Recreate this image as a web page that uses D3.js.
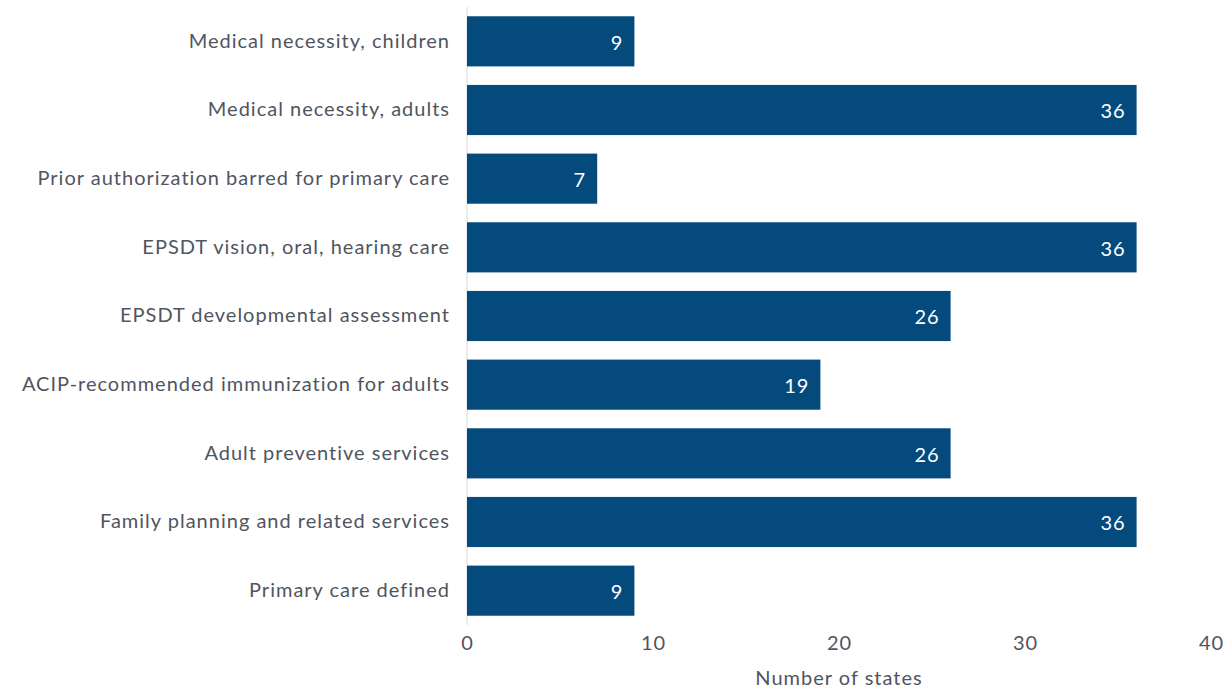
<!DOCTYPE html>
<html><head><meta charset="utf-8">
<script src="https://cdn.jsdelivr.net/npm/d3@7"></script>
<style>body{margin:0;background:#fff}svg{display:block}text{font-family:Lato,"Open Sans",sans-serif;letter-spacing:1px}</style>
</head><body><svg id="c" width="1226" height="689"></svg>
<script>
const categories = ["Medical necessity, children","Medical necessity, adults","Prior authorization barred for primary care","EPSDT vision, oral, hearing care","EPSDT developmental assessment","ACIP-recommended immunization for adults","Adult preventive services","Family planning and related services","Primary care defined"];
const values = [9,36,7,36,26,19,26,36,9];
const xTicks = [0,10,20,30,40];
const xTitle = "Number of states";

const svg = d3.select("#c");
const x = d3.scaleLinear().domain([0,40]).range([467,1211]);
const y = d3.scaleBand().domain(categories).range([7,625]).paddingInner(0.27).paddingOuter(0.135);
const txt = "#50555f";

svg.append("line").attr("x1",x(0)).attr("x2",x(0)).attr("y1",7).attr("y2",625).attr("stroke","#d9d9d9").attr("stroke-width",1);

svg.selectAll("rect.bar").data(values).join("rect").attr("class","bar")
  .attr("x",x(0)).attr("y",(d,i)=>y(categories[i])).attr("width",d=>x(d)-x(0)).attr("height",y.bandwidth())
  .attr("fill","#054a7d");

svg.selectAll("text.val").data(values).join("text").attr("class","val")
  .attr("x",d=>x(d)-11).attr("y",(d,i)=>y(categories[i])+y.bandwidth()/2+1).attr("dy","0.36em")
  .attr("text-anchor","end").attr("fill","#fff").attr("font-size",20).text(d=>d);

svg.selectAll("text.cat").data(categories).join("text").attr("class","cat")
  .attr("x",450).attr("y",d=>y(d)+y.bandwidth()/2-1).attr("dy","0.36em")
  .attr("text-anchor","end").attr("fill",txt).attr("font-size",20).text(d=>d);

const ax = svg.append("g").attr("transform","translate(0,636)").call(d3.axisBottom(x).tickValues(xTicks).tickSize(0).tickPadding(0));
ax.select(".domain").remove();
ax.selectAll("text").attr("font-size",20).attr("fill",txt).attr("font-family","Lato,'Open Sans',sans-serif").attr("dy","0.71em");

svg.append("text").attr("x",x(20)).attr("y",685).attr("text-anchor","middle").attr("fill",txt).attr("font-size",20).text(xTitle);
</script></body></html>
